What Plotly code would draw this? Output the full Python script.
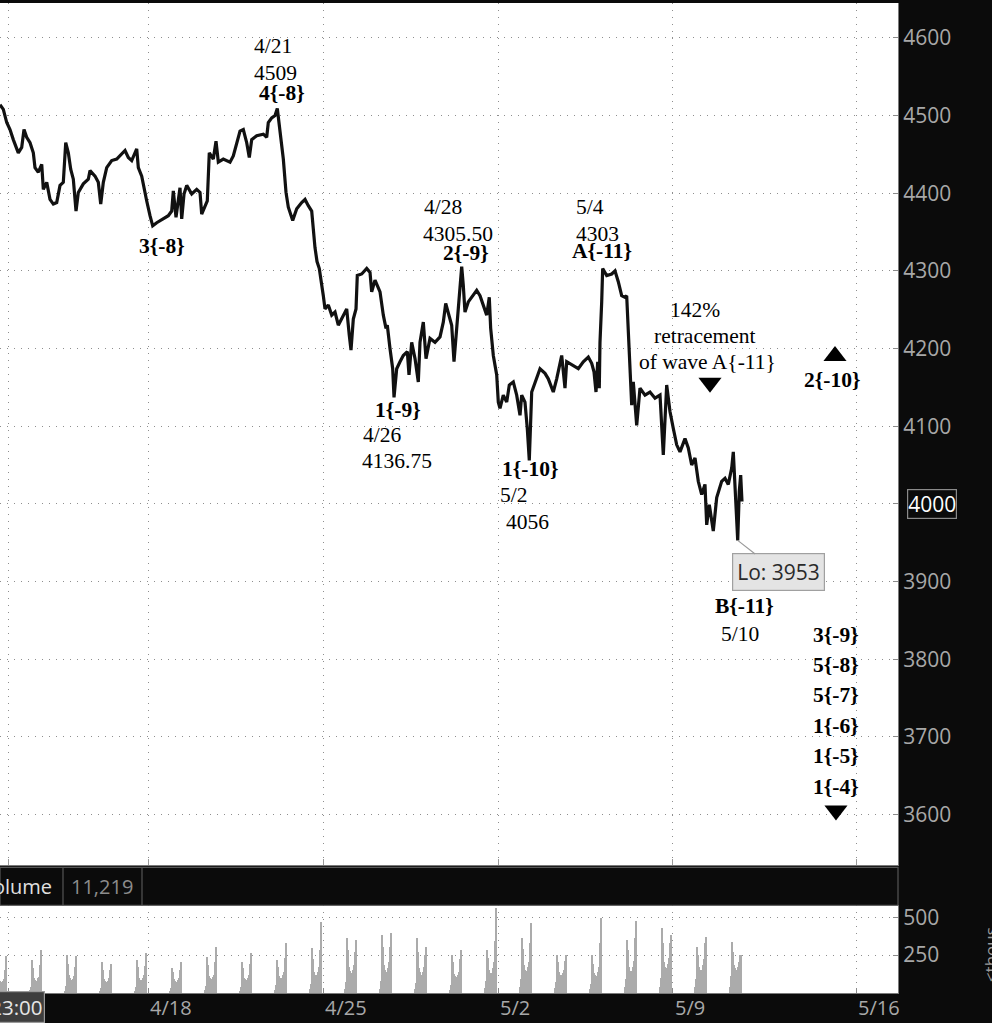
import plotly.graph_objects as go

# ---------------- data ----------------
# x = trading days relative to Mon 4/18 (0 = start of 4/18 session)
t_days = [-4.229, -4.134, -4.037, -3.943, -3.849, -3.751, -3.706, -3.609, -3.543, -3.466, -3.371, -3.277,
          -3.229, -3.134, -3.037, -2.991, -2.894, -2.8, -2.706, -2.609, -2.514, -2.42, -2.351, -2.277,
          -2.209, -2.134, -2.057, -1.991, -1.849, -1.706, -1.657, -1.514, -1.42, -1.351, -1.277, -1.18,
          -1.037, -0.894, -0.751, -0.657, -0.563, -0.466, -0.323, -0.277, -0.18, -0.114, -0.037, 0.057,
          0.134, 0.249, 0.437, 0.58, 0.677, 0.723, 0.8, 0.914, 0.963, 1.029, 1.106, 1.249, 1.391, 1.486,
          1.534, 1.629, 1.694, 1.751, 1.866, 1.943, 2.009, 2.151, 2.343, 2.437, 2.534, 2.629, 2.723, 2.82,
          2.894, 2.963, 3.106, 3.294, 3.391, 3.437, 3.534, 3.629, 3.694, 3.771, 3.866, 3.943, 4.009,
          4.134, 4.249, 4.391, 4.486, 4.58, 4.677, 4.771, 4.829, 4.894, 4.963, 5.009, 5.057, 5.151,
          5.249, 5.343, 5.437, 5.534, 5.677, 5.751, 5.8, 5.866, 5.943, 5.98, 6.106, 6.249, 6.343, 6.391,
          6.486, 6.629, 6.723, 6.8, 6.837, 6.914, 6.991, 7.029, 7.106, 7.2, 7.294, 7.409, 7.457, 7.534,
          7.629, 7.723, 7.771, 7.866, 7.943, 8.057, 8.2, 8.343, 8.437, 8.506, 8.58, 8.677, 8.743, 8.82,
          8.894, 8.963, 9.009, 9.057, 9.151, 9.294, 9.391, 9.486, 9.58, 9.677, 9.751, 9.791, 9.866,
          9.963, 10.009, 10.057, 10.151, 10.249, 10.323, 10.437, 10.534, 10.629, 10.677, 10.771, 10.837,
          10.894, 10.963, 11.057, 11.2, 11.343, 11.437, 11.58, 11.677, 11.82, 11.914, 11.963, 12.151,
          12.294, 12.437, 12.58, 12.677, 12.743, 12.8, 12.849, 12.894, 12.914, 12.963, 12.991, 13.106,
          13.249, 13.343, 13.437, 13.534, 13.629, 13.677, 13.723, 13.771, 13.82, 13.866, 13.963, 14.057,
          14.2, 14.343, 14.486, 14.629, 14.723, 14.82, 14.914, 15.009, 15.106, 15.2, 15.343, 15.437,
          15.534, 15.629, 15.723, 15.82, 15.914, 15.963, 16.037, 16.151, 16.249, 16.391, 16.486, 16.58,
          16.677, 16.723, 16.771, 16.82, 16.849, 16.894, 16.934, 16.971]

price = [4514, 4508, 4491, 4482, 4469, 4457, 4452, 4459, 4482, 4472, 4465, 4452, 4433, 4427, 4437, 4405,
         4414, 4392, 4386, 4388, 4410, 4414, 4465, 4452, 4431, 4418, 4377, 4401, 4412, 4418, 4429, 4422,
         4414, 4386, 4414, 4433, 4442, 4444, 4450, 4455, 4446, 4442, 4457, 4433, 4422, 4405, 4390, 4371,
         4358, 4362, 4367, 4371, 4377, 4403, 4369, 4407, 4367, 4399, 4410, 4399, 4405, 4401, 4373, 4384,
         4390, 4452, 4444, 4467, 4440, 4444, 4440, 4448, 4463, 4480, 4482, 4465, 4446, 4469, 4474, 4476,
         4472, 4491, 4497, 4500, 4509, 4482, 4444, 4401, 4382, 4365, 4380, 4388, 4392, 4384, 4377, 4330,
         4312, 4303, 4285, 4268, 4251, 4256, 4243, 4247, 4230, 4238, 4251, 4217, 4198, 4238, 4251, 4294,
         4296, 4303, 4298, 4273, 4288, 4273, 4243, 4226, 4230, 4200, 4174, 4137, 4174, 4183, 4191, 4196,
         4166, 4208, 4187, 4157, 4208, 4234, 4187, 4213, 4208, 4215, 4234, 4258, 4247, 4230, 4183, 4230,
         4277, 4305.5, 4281, 4247, 4260, 4268, 4275, 4268, 4256, 4243, 4266, 4226, 4191, 4166, 4131, 4123,
         4140, 4131, 4153, 4157, 4140, 4114, 4140, 4131, 4097, 4056, 4144, 4157, 4174, 4168, 4161, 4144,
         4161, 4191, 4149, 4183, 4178, 4174, 4183, 4189, 4181, 4170, 4144, 4183, 4149, 4208, 4260, 4303,
         4294, 4296, 4300, 4286, 4268, 4266, 4268, 4221, 4174, 4127, 4157, 4101, 4149, 4140, 4144, 4136,
         4140, 4063, 4153, 4119, 4097, 4076, 4067, 4084, 4072, 4050, 4059, 4029, 4012, 4025, 3973, 3999,
         3965, 4008, 4029, 4033, 4025, 4046, 4067, 4016, 3982, 3953, 4016, 4037, 4003]

# volume (thousands): one row per trading day, half-hour bars from session hour 14.0 to 21.5
vol_days = list(range(-5, 17))
vol_hours = [14.0, 14.5, 15.0, 15.5, 16.0, 16.5, 17.0, 17.5, 18.0, 18.5, 19.0, 19.5, 20.0, 20.5, 21.0, 21.5]
volume_by_day = [
    [8, 12, 35, 180, 150, 110, 95, 80, 70, 60, 65, 75, 90, 110, 150, 240],
    [10, 15, 40, 215, 160, 120, 100, 85, 75, 70, 80, 95, 105, 130, 180, 282],
    [9, 14, 45, 249, 190, 140, 115, 95, 85, 75, 80, 90, 110, 125, 170, 240],
    [7, 12, 30, 204, 150, 115, 90, 75, 70, 65, 70, 80, 95, 120, 150, 190],
    [8, 14, 40, 215, 170, 125, 100, 85, 80, 75, 85, 100, 120, 140, 175, 260],
    [6, 10, 30, 160, 135, 105, 90, 75, 70, 65, 70, 85, 100, 120, 150, 204],
    [9, 15, 45, 237, 180, 135, 110, 95, 85, 80, 90, 105, 120, 150, 200, 300],
    [8, 14, 40, 204, 160, 120, 100, 90, 80, 75, 85, 100, 115, 140, 190, 260],
    [10, 18, 50, 215, 170, 130, 110, 95, 90, 85, 95, 115, 135, 170, 230, 327],
    [12, 22, 60, 294, 220, 170, 140, 120, 110, 100, 115, 140, 170, 210, 280, 470],
    [14, 25, 70, 360, 280, 210, 170, 145, 130, 120, 130, 150, 180, 220, 270, 349],
    [14, 25, 75, 382, 300, 220, 180, 150, 140, 130, 140, 165, 200, 240, 300, 393],
    [12, 22, 65, 360, 270, 200, 160, 135, 120, 110, 120, 140, 170, 200, 250, 304],
    [10, 18, 50, 249, 200, 150, 125, 110, 100, 95, 105, 120, 140, 170, 220, 282],
    [15, 28, 80, 282, 230, 180, 150, 130, 120, 115, 130, 160, 200, 260, 340, 560],
    [20, 35, 90, 360, 290, 220, 180, 150, 140, 130, 145, 170, 200, 250, 330, 460],
    [18, 30, 70, 249, 200, 160, 140, 120, 110, 105, 115, 130, 150, 180, 210, 249],
    [15, 25, 60, 250, 190, 150, 130, 115, 105, 100, 110, 135, 170, 230, 330, 493],
    [22, 35, 90, 349, 280, 210, 170, 145, 135, 130, 145, 170, 210, 270, 360, 471],
    [25, 40, 100, 427, 330, 250, 200, 170, 155, 145, 160, 190, 230, 280, 330, 380],
    [22, 38, 90, 304, 250, 200, 170, 150, 140, 135, 150, 180, 220, 280, 330, 371],
    [25, 40, 110, 338, 270, 210, 180, 160, 150, 140, 150, 170, 200, 230, 250, 250],
]
SESSION_HOURS = 23.0

date_tick_days = [-4, 0, 5, 10, 15, 20.23]
date_tick_text = ["", "4/18", "4/25", "5/2", "5/9", "5/16"]
price_ticks = [3600, 3700, 3800, 3900, 4000, 4100, 4200, 4300, 4400, 4500, 4600]
vol_ticks = [0, 250, 500]
last_volume = "11,219"
low_value = 3953
low_day = 16.849

# wave labels: (text, day, price, bold)
labels = [
    ("4/21", 3.571, 4589.7, False), ("4509", 3.629, 4555.0, False), ("4{-8}", 3.829, 4529.4, True),
    ("3{-8}", 0.40, 4331.7, True),
    ("4/28", 8.429, 4381.8, False), ("4305.50", 8.857, 4347.1, False), ("2{-9}", 9.086, 4322.7, True),
    ("5/4", 12.629, 4381.8, False), ("4303", 12.829, 4347.1, False), ("A{-11}", 12.971, 4325.3, True),
    ("142%", 15.629, 4249.6, False), ("retracement", 15.914, 4216.2, False),
    ("of wave A{-11}", 16.0, 4182.8, False),
    ("2{-10}", 19.543, 4160.1, True),
    ("1{-9}", 7.143, 4121.2, True), ("4/26", 6.686, 4089.1, False), ("4136.75", 7.114, 4055.7, False),
    ("1{-10}", 10.914, 4045.4, True), ("5/2", 10.429, 4010.8, False), ("4056", 10.857, 3976.1, False),
    ("B{-11}", 17.057, 3868.3, True), ("5/10", 16.914, 3832.4, False),
    ("3{-9}", 19.657, 3831.1, True), ("5{-8}", 19.657, 3792.6, True), ("5{-7}", 19.657, 3754.0, True),
    ("1{-6}", 19.657, 3714.2, True), ("1{-5}", 19.657, 3675.7, True), ("1{-4}", 19.657, 3635.9, True),
]
# triangles: (day, price, symbol)
triangles = [(16.057, 4155.8, "triangle-down"), (19.629, 4190.5, "triangle-up"),
             (19.657, 3605.1, "triangle-down")]

assert len(t_days) == len(price)

# ---------------- figure ----------------
BG = "#0b0b0b"
AXT = "#a8a8a8"
GRID = "#8e8e8e"
SANS = "Open Sans, DejaVu Sans, sans-serif"
SERIF = "Liberation Serif, Times New Roman, serif"

PLOT_W = 898.0
PLOT_H = 993.0


def py(px):
    return (PLOT_H - px) / PLOT_H


def pxx(px):
    return px / PLOT_W


fig = go.Figure()

fig.add_trace(go.Scatter(x=t_days, y=price, mode="lines",
                         line=dict(color="#111111", width=3.2),
                         xaxis="x", yaxis="y", hoverinfo="skip", showlegend=False))

vx, vy = [], []
for d, row in zip(vol_days, volume_by_day):
    for h, v in zip(vol_hours, row):
        vx.append(d + (h + 0.25) / SESSION_HOURS)
        vy.append(v)
fig.add_trace(go.Bar(x=vx, y=vy, width=0.62 / SESSION_HOURS,
                     marker=dict(color="#ababab", line=dict(width=0)),
                     xaxis="x2", yaxis="y2", hoverinfo="skip", showlegend=False))

fig.add_trace(go.Scatter(x=[t[0] for t in triangles], y=[t[1] for t in triangles], mode="markers",
                         marker=dict(symbol=[t[2] for t in triangles], size=20, color="black"),
                         xaxis="x", yaxis="y", hoverinfo="skip", showlegend=False))

xr = [-4.229, 21.429]
grid_common = dict(showgrid=True, gridcolor=GRID, gridwidth=1, griddash="1px,6px", zeroline=False)

fig.update_layout(
    width=992, height=1023,
    paper_bgcolor=BG, plot_bgcolor="white",
    margin=dict(l=0, r=94, t=0, b=30),
    bargap=0,
    xaxis=dict(domain=[0, 1], range=xr, anchor="y", tickvals=date_tick_days, ticktext=date_tick_text,
               showticklabels=False, ticks="inside", ticklen=6, tickcolor="#9a9a9a",
               showline=True, linecolor="#7a7a7a", linewidth=1, **grid_common),
    yaxis=dict(domain=[py(865), 1], range=[3534.5, 4644.9], side="right", anchor="x",
               tickvals=price_ticks, ticktext=[("" if v == 4000 else str(v)) for v in price_ticks],
               ticks="inside", ticklen=5, tickcolor="#8a8a8a",
               tickfont=dict(family=SANS, size=21, color=AXT),
               showline=True, linecolor="#7a7a7a", linewidth=1, **grid_common),
    xaxis2=dict(domain=[0, 1], range=xr, anchor="y2", matches="x", tickvals=date_tick_days,
                showticklabels=False, ticks="inside", ticklen=5, tickcolor="#8a8a8a",
                showline=True, linecolor="#7a7a7a", linewidth=1, **grid_common),
    yaxis2=dict(domain=[0, py(905)], range=[0, 579], side="right", anchor="x2",
                tickvals=vol_ticks, ticktext=["", "250", "500"],
                ticks="inside", ticklen=5, tickcolor="#8a8a8a",
                tickfont=dict(family=SANS, size=21, color=AXT),
                showline=True, linecolor="#7a7a7a", linewidth=1, **grid_common),
)

# header band for the volume pane
fig.add_shape(type="rect", xref="paper", yref="paper", x0=0, x1=1, y0=py(905), y1=py(867),
              fillcolor=BG, line=dict(color="#555555", width=1.2), layer="above")
for sx in (63, 142):
    fig.add_shape(type="line", xref="paper", yref="paper", x0=pxx(sx), x1=pxx(sx), y0=py(905), y1=py(867),
                  line=dict(color="#555555", width=1.2))

ann = []
for text, d, p, bold in labels:
    ann.append(dict(x=d, y=p, xref="x", yref="y", text=(f"<b>{text}</b>" if bold else text),
                    showarrow=False, font=dict(family=SERIF, size=21.5, color="black"),
                    xanchor="center", yanchor="middle"))

# date labels (left aligned at each tick)
for d, txt in zip(date_tick_days, date_tick_text):
    if txt:
        ann.append(dict(x=d, y=py(1008), xref="x", yref="paper", text=txt, showarrow=False,
                        xanchor="left", yanchor="middle", font=dict(family=SANS, size=20, color=AXT)))

# low callout
ann.append(dict(x=low_day, y=low_value, xref="x", yref="y", text=f"Lo: {low_value}", showarrow=True,
                arrowhead=0, arrowwidth=1.2, arrowcolor="#9a9a9a", ax=41, ay=32,
                bgcolor="#e4e4e4", bordercolor="#a0a0a0", borderwidth=1.2, borderpad=4,
                font=dict(family=SANS, size=21, color="#2a2a2a")))

# last price marker on axis
ann.append(dict(x=pxx(932), y=4000, xref="paper", yref="y", text="4000", showarrow=False,
                bgcolor=BG, bordercolor="#8a8a8a", borderwidth=1.2, borderpad=0,
                font=dict(family=SANS, size=21, color="white"), xanchor="center", yanchor="middle"))

# volume header text
ann.append(dict(x=pxx(54), y=py(886), xref="paper", yref="paper", text="Volume", showarrow=False,
                xanchor="right", yanchor="middle", font=dict(family=SANS, size=20, color="#e0e0e0")))
ann.append(dict(x=pxx(69), y=py(886), xref="paper", yref="paper", text=last_volume, showarrow=False,
                xanchor="left", yanchor="middle", font=dict(family=SANS, size=20, color="#8c8c8c")))

# cursor time box (cut at left edge)
ann.append(dict(x=pxx(45), y=py(1007), xref="paper", yref="paper", text="23:00", showarrow=False,
                xanchor="right", yanchor="middle", bgcolor="#3e3e3e", bordercolor="#9a9a9a",
                borderwidth=1.2, borderpad=1, font=dict(family=SANS, size=20.5, color="#e6e6e6")))

# volume unit label
ann.append(dict(x=pxx(990), y=py(955), xref="paper", yref="paper", text="<thous", showarrow=False,
                textangle=-90, xanchor="center", yanchor="middle",
                font=dict(family=SANS, size=17, color="#9a9a9a")))

fig.update_layout(annotations=ann)

fig.write_html("out.html", config={"displayModeBar": False},
               post_script="document.body.style.margin='0';document.body.style.background='#0b0b0b';")
